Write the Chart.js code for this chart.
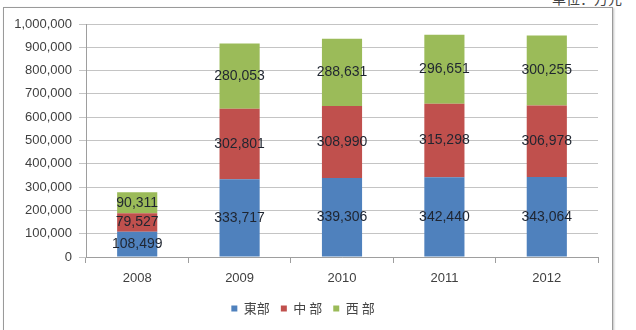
<!DOCTYPE html>
<html lang="zh">
<head>
    <meta charset="UTF-8">
    <title>東部 中部 西部</title>
    <script src="https://cdn.jsdelivr.net/npm/chart.js"></script>
    <style>
        body {
            margin: 0;
            padding: 0;
            background: #fff;
            width: 636px;
            height: 330px;
            overflow: hidden;
            position: relative;
        }

        .frame {
            position: absolute;
            left: 3px;
            top: 7px;
            width: 608px;
            height: 340px;
            border: 1px solid #9a9a9a;
            box-shadow: 1px 1px 2px rgba(0, 0, 0, 0.25);
            pointer-events: none;
        }

        .unit {
            position: absolute;
            right: 14px;
            top: -12px;
            font-family: 'Noto Sans CJK SC', sans-serif;
            font-size: 14px;
            color: #444;
        }

        #chart {
            position: absolute;
            left: 0;
            top: 0;
        }
    </style>
</head>
<body>
    <div class="unit">单位：万元</div>
    <canvas id="chart" width="636" height="330"></canvas>
    <div class="frame"></div>

    <script>
        const years = ['2008', '2009', '2010', '2011', '2012'];
        const east = [108499, 333717, 339306, 342440, 343064];
        const central = [79527, 302801, 308990, 315298, 306978];
        const west = [90311, 280053, 288631, 296651, 300255];
        const seriesNames = ['東部', '中 部', '西 部'];
        const yTicksMax = 1000000;
        const yTicksStep = 100000;

        const fmt = v => v.toLocaleString('en-US');

        // write the value in the middle of each stacked segment
        const segmentLabels = {
            id: 'segmentLabels',
            afterDatasetsDraw(chart) {
                const ctx = chart.ctx;
                ctx.save();
                ctx.font = '14px "Liberation Sans", Arial, sans-serif';
                ctx.fillStyle = '#1f2530';
                ctx.textAlign = 'center';
                ctx.textBaseline = 'middle';
                chart.data.datasets.forEach((ds, i) => {
                    chart.getDatasetMeta(i).data.forEach((bar, j) => {
                        const y = (bar.y + bar.base) / 2;
                        ctx.fillText(fmt(ds.data[j]), bar.x, y);
                    });
                });
                ctx.restore();
            }
        };

        const ctx = document.getElementById('chart').getContext('2d');
        new Chart(ctx, {
            type: 'bar',
            data: {
                labels: years,
                datasets: [
                    { label: seriesNames[0], data: east, backgroundColor: '#4f81bd' },
                    { label: seriesNames[1], data: central, backgroundColor: '#c0504d' },
                    { label: seriesNames[2], data: west, backgroundColor: '#9bbb59' }
                ]
            },
            options: {
                responsive: false,
                animation: false,
                categoryPercentage: 0.8,
                barPercentage: 0.49,
                layout: {
                    padding: { left: 8, right: 38, top: 24, bottom: 5 }
                },
                plugins: {
                    tooltip: { enabled: false },
                    legend: {
                        position: 'bottom',
                        labels: {
                            boxWidth: 6,
                            boxHeight: 6,
                            padding: 11,
                            color: '#444',
                            font: { family: '"Noto Sans CJK SC", sans-serif', size: 13 }
                        }
                    }
                },
                scales: {
                    x: {
                        stacked: true,
                        afterFit(s) { s.height = 34; },
                        border: { color: '#9e9e9e' },
                        grid: {
                            drawOnChartArea: false,
                            tickLength: 6,
                            color: '#9e9e9e'
                        },
                        ticks: {
                            color: '#404040',
                            padding: 8,
                            font: { family: '"Liberation Sans", Arial, sans-serif', size: 13 }
                        }
                    },
                    y: {
                        stacked: true,
                        min: 0,
                        max: yTicksMax,
                        afterFit(s) { s.width = 78; },
                        border: { color: '#9e9e9e' },
                        grid: {
                            color: '#c4c4c4',
                            tickLength: 7
                        },
                        ticks: {
                            stepSize: yTicksStep,
                            color: '#404040',
                            padding: 7,
                            font: { family: '"Liberation Sans", Arial, sans-serif', size: 13 },
                            callback: v => fmt(v)
                        }
                    }
                }
            },
            plugins: [segmentLabels]
        });
    </script>
</body>
</html>
